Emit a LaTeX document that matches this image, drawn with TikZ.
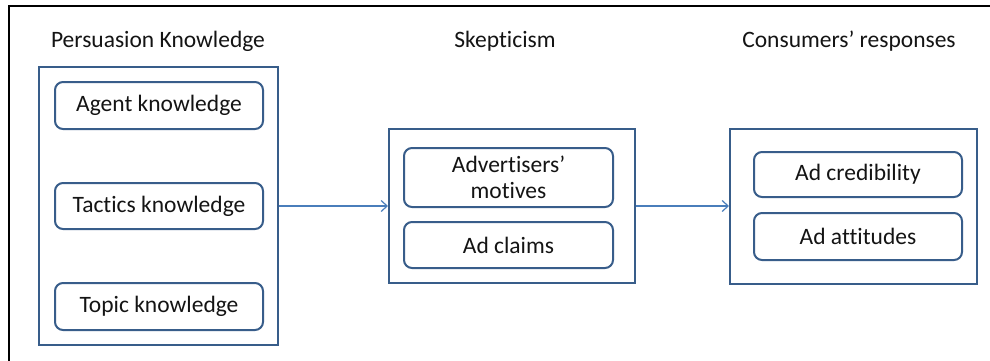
\documentclass[tikz,border=0pt]{standalone}
\usepackage{fontspec}
\setmainfont[Ligatures=NoCommon]{Carlito}
\definecolor{boxblue}{RGB}{56, 93, 138}
\definecolor{arrowblue}{RGB}{74, 126, 187}
\definecolor{inktext}{RGB}{20, 20, 20}
\usetikzlibrary{arrows.meta, positioning}

\begin{document}
\begin{tikzpicture}[x=1pt, y=-1pt,
  outerbox/.style={draw=boxblue, line width=2pt, inner sep=0pt},
  itembox/.style={draw=boxblue, line width=2pt, rounded corners=8pt, inner sep=0pt, minimum width=208pt, align=center, text=inktext, font=\fontsize{23.5}{25}\selectfont},
  heading/.style={anchor=base, text=inktext, font=\fontsize{23.5}{28}\selectfont},
  link/.style={draw=arrowblue, line width=1.2pt, -{Straight Barb[length=6pt, width=11pt]}}]
\useasboundingbox (0,0) rectangle (990,360);
\fill[white] (0,0) rectangle (990,360);
\draw[line width=2.5pt] (9,362) -- (9,6) -- (992,6);

% headings
\node[heading] (pktitle) at (158,47) {Persuasion Knowledge};
\node[heading] (sktitle) at (505,47) {Skepticism};
\node[heading] (crtitle) at (849,47) {Consumers’ responses};

% outer boxes
\node[outerbox, minimum width=239pt, minimum height=278pt] (pk) at (158.5,206) {};
\node[outerbox, minimum width=246pt, minimum height=154pt] (sk) at (512,206) {};
\node[outerbox, minimum width=247pt, minimum height=155pt] (cr) at (853.5,206) {};

% items
\node[itembox, minimum height=47pt] (agent) at (159,105.5) {Agent knowledge};
\node[itembox, minimum height=46pt] (tactics) at (159,206) {Tactics knowledge};
\node[itembox, minimum height=47pt] (topic) at (159,306.5) {Topic knowledge};
\node[itembox, minimum width=209pt, minimum height=59pt, font=\fontsize{23.5}{26}\selectfont] (motives) at (508.5,177.5) {Advertisers’\\motives};
\node[itembox, minimum width=209pt, minimum height=46pt] (claims) at (508.5,245) {Ad claims};
\node[itembox, minimum height=45pt] (credib) at (858,174.5) {Ad credibility};
\node[itembox, minimum height=47pt] (attit) at (858,236.5) {Ad attitudes};

\draw[link] (pk) -- (sk);
\draw[link] (sk) -- (cr);
\end{tikzpicture}
\end{document}
